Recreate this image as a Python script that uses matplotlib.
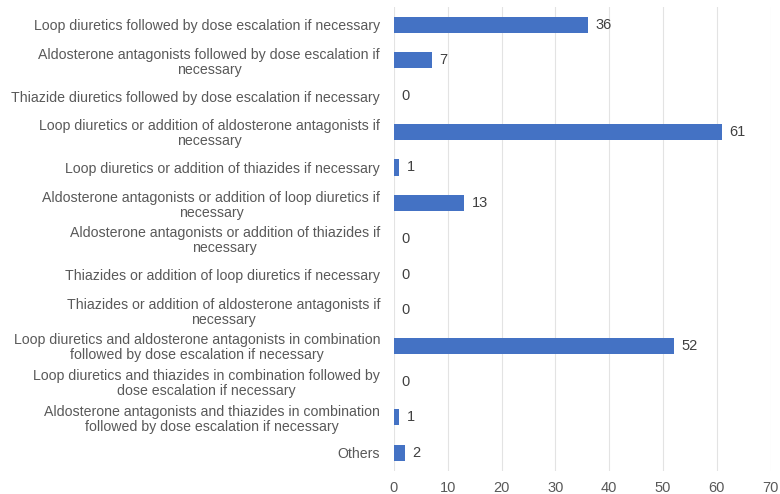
import matplotlib.pyplot as plt

plt.rcParams['font.family'] = ['Liberation Sans', 'DejaVu Sans']

categories = [
    "Loop diuretics followed by dose escalation if necessary",
    "Aldosterone antagonists followed by dose escalation if\nnecessary",
    "Thiazide diuretics followed by dose escalation if necessary",
    "Loop diuretics or addition of aldosterone antagonists if\nnecessary",
    "Loop diuretics or addition of thiazides if necessary",
    "Aldosterone antagonists or addition of loop diuretics if\nnecessary",
    "Aldosterone antagonists or addition of thiazides if\nnecessary",
    "Thiazides or addition of loop diuretics if necessary",
    "Thiazides or addition of aldosterone antagonists if\nnecessary",
    "Loop diuretics and aldosterone antagonists in combination\nfollowed by dose escalation if necessary",
    "Loop diuretics and thiazides in combination followed by\ndose escalation if necessary",
    "Aldosterone antagonists and thiazides in combination\nfollowed by dose escalation if necessary",
    "Others",
]
counts = [36, 7, 0, 61, 1, 13, 0, 0, 0, 52, 0, 1, 2]
xticks = [0, 10, 20, 30, 40, 50, 60, 70]

text_col = '#595959'
bar_col = '#4472C4'

fig = plt.figure(figsize=(7.8, 4.94), dpi=100)
ax = fig.add_axes([0.505, 0.047, 0.483, 0.939])

y = list(range(len(categories)))
ax.barh(y, counts, height=0.45, color=bar_col, zorder=3)
for yi, v in zip(y, counts):
    ax.text(v + 1.4, yi, str(v), va='center', ha='left', fontsize=10.5, color='#404040')

ax.set_yticks(y)
ax.set_yticklabels(categories, fontsize=10.2, color=text_col,
                   multialignment='center', linespacing=1.1)
ax.set_ylim(len(categories) - 0.5, -0.5)
ax.set_xlim(0, 70)
ax.set_xticks(xticks)
ax.set_xticklabels([str(t) for t in xticks], fontsize=10.5, color=text_col)
ax.tick_params(length=0, pad=10)
ax.tick_params(axis='x', pad=7)
ax.grid(axis='x', color='#E3E3E3', linewidth=0.8, zorder=0)
for s in ax.spines.values():
    s.set_visible(False)

fig.savefig('out.png', dpi=100)
